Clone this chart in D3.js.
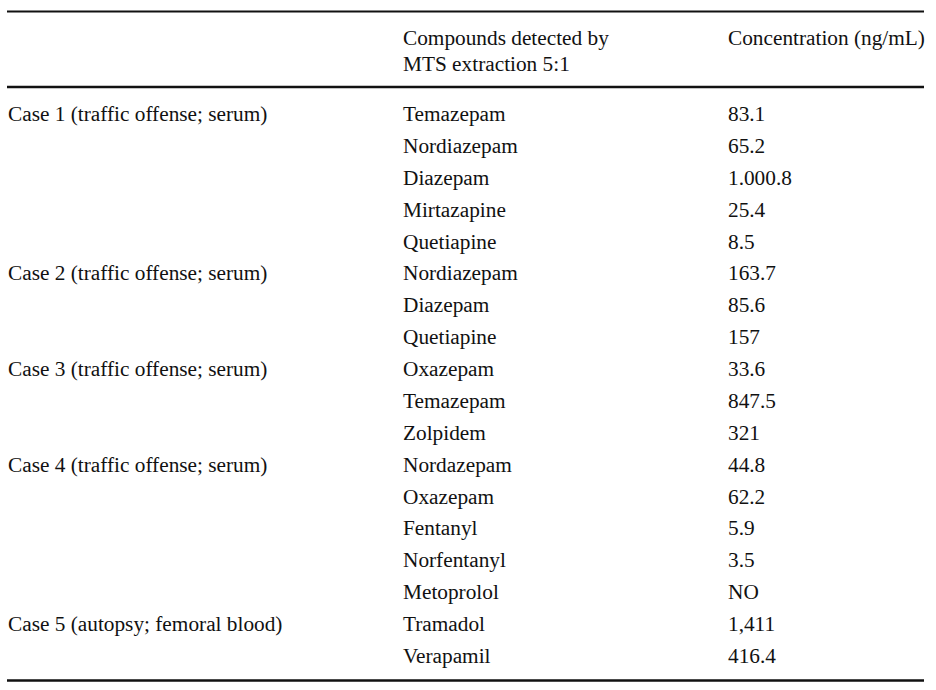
<!DOCTYPE html>
<html>
<head>
<meta charset="utf-8">
<script src="https://cdn.jsdelivr.net/npm/d3@7"></script>
<style>
  body { margin: 0; background: #fff; }
  svg text { font-family: "Liberation Serif", "Times New Roman", serif; font-size: 21.3px; fill: #111; }
</style>
</head>
<body>
<svg id="chart" width="936" height="690"></svg>
<script>
// column headers (two-line ones split into lines)
var headers = [
  [],
  ["Compounds detected by", "MTS extraction 5:1"],
  ["Concentration (ng/mL)"]
];

var caseLabels = [
  "Case 1 (traffic offense; serum)",
  "Case 2 (traffic offense; serum)",
  "Case 3 (traffic offense; serum)",
  "Case 4 (traffic offense; serum)",
  "Case 5 (autopsy; femoral blood)"
];

// first row of each case
var caseStart = [0, 5, 8, 11, 16];

var compounds = [
  "Temazepam", "Nordiazepam", "Diazepam", "Mirtazapine", "Quetiapine",
  "Nordiazepam", "Diazepam", "Quetiapine",
  "Oxazepam", "Temazepam", "Zolpidem",
  "Nordazepam", "Oxazepam", "Fentanyl", "Norfentanyl", "Metoprolol",
  "Tramadol", "Verapamil"
];

var concentrations = [
  "83.1", "65.2", "1.000.8", "25.4", "8.5",
  "163.7", "85.6", "157",
  "33.6", "847.5", "321",
  "44.8", "62.2", "5.9", "3.5", "NO",
  "1,411", "416.4"
];

var svg = d3.select('#chart');

// layout
var cols = d3.scaleOrdinal().domain([0, 1, 2]).range([8, 403, 728]);
var rowY = d3.scaleLinear().domain([0, compounds.length - 1]).range([121, 663]);
var headY = d3.scaleLinear().domain([0, 1]).range([45, 71]);
var left = 7, right = 924;

/* Rules */
var rules = [
  { y: 11.5, w: 2 },
  { y: 87, w: 2.5 },
  { y: 680.5, w: 2.5 }
];
svg.append('g').attr('class', 'rules')
  .selectAll('line')
  .data(rules)
  .enter().append('line')
  .attr('x1', left)
  .attr('x2', right)
  .attr('y1', function (d) { return d.y; })
  .attr('y2', function (d) { return d.y; })
  .attr('stroke', '#111')
  .attr('stroke-width', function (d) { return d.w; });

/* Header */
var head = svg.append('g').attr('class', 'header');
headers.forEach(function (lines, c) {
  head.selectAll('text.h' + c)
    .data(lines)
    .enter().append('text')
    .attr('class', 'h' + c)
    .attr('x', cols(c))
    .attr('y', function (d, i) { return headY(i); })
    .text(function (d) { return d; });
});

/* Body */
var body = svg.append('g').attr('class', 'body');

body.selectAll('text.case')
  .data(caseLabels)
  .enter().append('text')
  .attr('class', 'case')
  .attr('x', cols(0))
  .attr('y', function (d, i) { return rowY(caseStart[i]); })
  .text(function (d) { return d; });

body.selectAll('text.compound')
  .data(compounds)
  .enter().append('text')
  .attr('class', 'compound')
  .attr('x', cols(1))
  .attr('y', function (d, i) { return rowY(i); })
  .text(function (d) { return d; });

body.selectAll('text.conc')
  .data(concentrations)
  .enter().append('text')
  .attr('class', 'conc')
  .attr('x', cols(2))
  .attr('y', function (d, i) { return rowY(i); })
  .text(function (d) { return d; });
</script>
</body>
</html>
